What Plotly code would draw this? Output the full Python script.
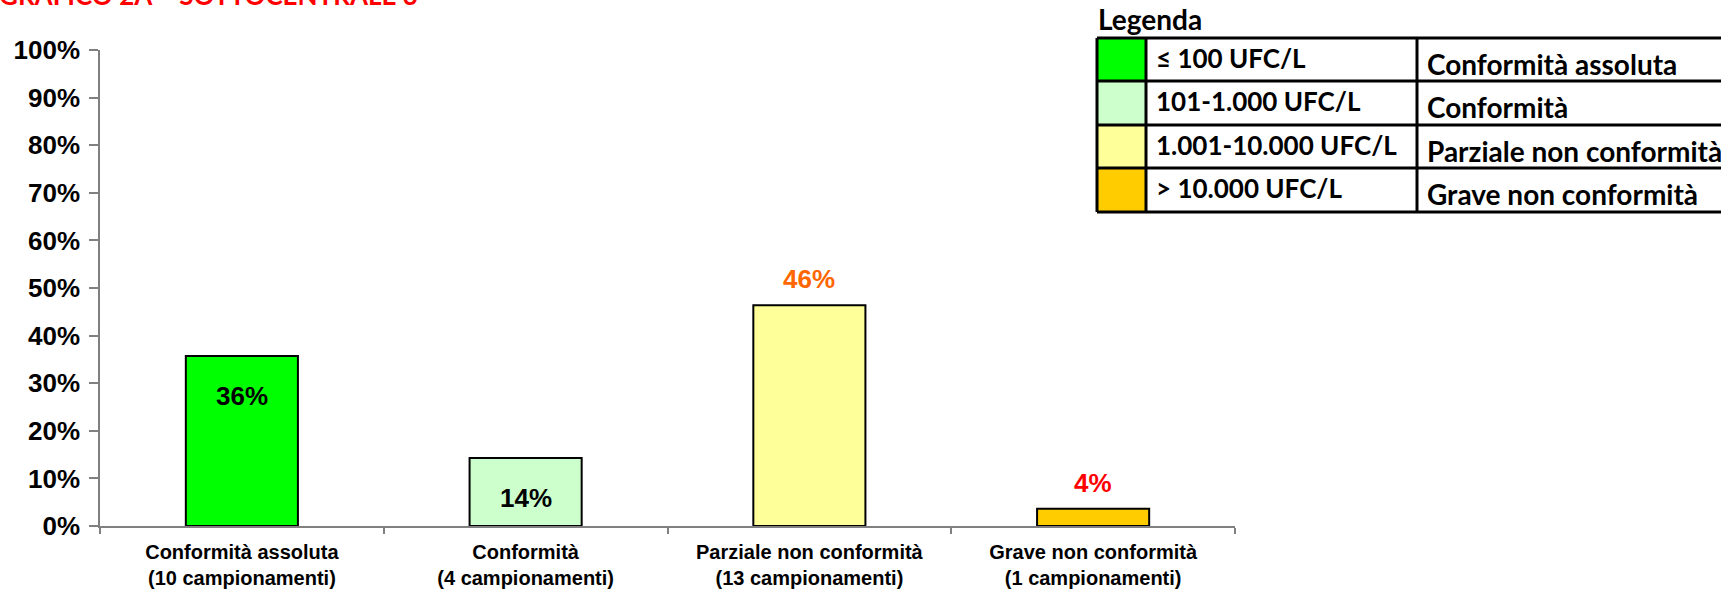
import plotly.graph_objects as go

# ---- data ----
categories = [
    "Conformità assoluta<br>(10 campionamenti)",
    "Conformità<br>(4 campionamenti)",
    "Parziale non conformità<br>(13 campionamenti)",
    "Grave non conformità<br>(1 campionamenti)",
]
values = [0.357, 0.143, 0.464, 0.036]
bar_colors = ["#00FF00", "#CCFFCC", "#FFFF99", "#FFCC00"]
label_colors = ["#000000", "#000000", "#FF6600", "#FF0000"]
label_inside = [True, True, False, False]

y_ticks = [0, 0.1, 0.2, 0.3, 0.4, 0.5, 0.6, 0.7, 0.8, 0.9, 1.0]
y_ticktext = ["0%", "10%", "20%", "30%", "40%", "50%", "60%", "70%", "80%", "90%", "100%"]

legend_title = "Legenda"
legend_ranges = ["≤ 100 UFC/L", "101-1.000 UFC/L", "1.001-10.000 UFC/L", "> 10.000 UFC/L"]
legend_classes = ["Conformità assoluta", "Conformità", "Parziale non conformità", "Grave non conformità"]
legend_colors = ["#00FF00", "#CCFFCC", "#FFFF99", "#FFCC00"]

title_text = "GRAFICO 2A – SOTTOCENTRALE 3"

# ---- layout geometry ----
W, H = 1721, 591
L, R, T, B = 100, 486, 50, 65
PW, PH = W - L - R, H - T - B

ARIAL = "Liberation Sans, Arial, sans-serif"
CALIBRI = "Lato, Carlito, Calibri, sans-serif"


def xp(px):
    return (px - L) / PW


def yp(py):
    return (H - B - py) / PH


fig = go.Figure()
fig.add_trace(go.Bar(
    x=categories,
    y=values,
    marker=dict(color=bar_colors, line=dict(color="#000000", width=2)),
    hoverinfo="skip",
))

annotations = []
for cat, v, col, inside in zip(categories, values, label_colors, label_inside):
    annotations.append(dict(
        x=cat, y=v, xref="x", yref="y",
        text=f"<b>{v:.0%}</b>", showarrow=False,
        yshift=-40 if inside else 26,
        xanchor="center", yanchor="middle",
        font=dict(family=ARIAL, size=26, color=col),
    ))

# title (partly cut off at top of the canvas)
annotations.append(dict(
    x=xp(-3), y=yp(-4.5), xref="paper", yref="paper",
    text=f"<b>{title_text}</b>", showarrow=False,
    xanchor="left", yanchor="middle",
    font=dict(family=CALIBRI, size=26, color="#FF0000"),
))

# legend table
col_x = [1097, 1146, 1417, 1730]
row_y = [38, 81, 125, 168, 212]
shapes = []
for i, c in enumerate(legend_colors):
    shapes.append(dict(
        type="rect", xref="paper", yref="paper",
        x0=xp(col_x[0]), x1=xp(col_x[1]), y0=yp(row_y[i]), y1=yp(row_y[i + 1]),
        fillcolor=c, line=dict(width=0), layer="above",
    ))
line_style = dict(color="#000000", width=3)
for ry in row_y:
    shapes.append(dict(type="line", xref="paper", yref="paper",
                       x0=xp(col_x[0]), x1=xp(col_x[-1]), y0=yp(ry), y1=yp(ry),
                       line=line_style, layer="above"))
for cx in col_x[:3]:
    shapes.append(dict(type="line", xref="paper", yref="paper",
                       x0=xp(cx), x1=xp(cx), y0=yp(row_y[0]), y1=yp(row_y[-1]),
                       line=line_style, layer="above"))

annotations.append(dict(
    x=xp(1096), y=yp(19), xref="paper", yref="paper",
    text=f"<b>{legend_title}</b>", showarrow=False,
    xanchor="left", yanchor="middle",
    font=dict(family=CALIBRI, size=28, color="#000000"),
))
for i, (rng, cls) in enumerate(zip(legend_ranges, legend_classes)):
    cy = (row_y[i] + row_y[i + 1]) / 2
    annotations.append(dict(
        x=xp(1154), y=yp(cy - 2), xref="paper", yref="paper",
        text=f"<b>{rng}</b>", showarrow=False,
        xanchor="left", yanchor="middle",
        font=dict(family=CALIBRI, size=26, color="#000000"),
    ))
    annotations.append(dict(
        x=xp(1425), y=yp(cy + 4), xref="paper", yref="paper",
        text=f"<b>{cls}</b>", showarrow=False,
        xanchor="left", yanchor="middle",
        font=dict(family=CALIBRI, size=28, color="#000000"),
    ))

fig.update_layout(
    width=W, height=H,
    margin=dict(l=L, r=R, t=T, b=B, pad=0, autoexpand=False),
    paper_bgcolor="#FFFFFF", plot_bgcolor="#FFFFFF",
    showlegend=False,
    bargap=0.605,
    annotations=annotations,
    shapes=shapes,
    xaxis=dict(
        type="category", automargin=False,
        tickmode="array", tickvals=categories,
        ticktext=[f"<b>{c.replace('<br>', '</b><br><b>')}</b>" for c in categories],
        showline=True, linecolor="#808080", linewidth=1.5,
        ticks="outside", tickson="boundaries", ticklen=6, tickcolor="#808080", tickwidth=1.5,
        showgrid=False, zeroline=False,
        tickfont=dict(family=ARIAL, size=20, color="#000000"),
        ticklabelstandoff=7,
    ),
    yaxis=dict(
        range=[0, 1], automargin=False,
        tickvals=y_ticks, ticktext=[f"<b>{t}</b>" for t in y_ticktext],
        showline=True, linecolor="#808080", linewidth=1.5,
        ticks="outside", ticklen=9, tickcolor="#808080", tickwidth=1.5,
        showgrid=False, zeroline=False,
        tickfont=dict(family=ARIAL, size=26, color="#000000"),
        ticklabelstandoff=4,
    ),
)

fig.write_html("out.html", config={"displayModeBar": False},
               post_script="document.body.style.margin='0';")
